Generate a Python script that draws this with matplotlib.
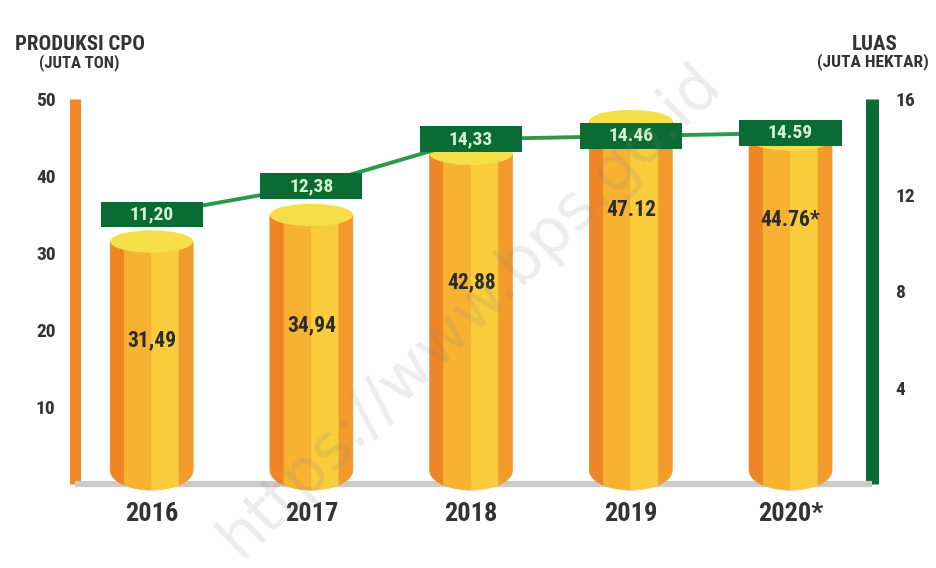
import numpy as np
import matplotlib.pyplot as plt
from matplotlib.patches import Polygon, Ellipse, Rectangle

# Data produksi CPO dan luas areal kelapa sawit
tahun = ['2016', '2017', '2018', '2019', '2020*']
produksi_cpo = [31.49, 34.94, 42.88, 47.12, 44.76]      # juta ton
luas_areal = [11.20, 12.38, 14.33, 14.46, 14.59]        # juta hektar
label_produksi = ['31,49', '34,94', '42,88', '47.12', '44.76*']
label_luas = ['11,20', '12,38', '14,33', '14.46', '14.59']
ticks_kiri = [10, 20, 30, 40, 50]
ticks_kanan = [4, 8, 12, 16]

# tinggi teks nilai di dalam silinder (satuan sumbu kiri)
posisi_label = [18.6, 20.6, 26.2, 35.6, 34.3]

ORANYE = '#F08A26'
HIJAU_TUA = '#0B6B34'
HIJAU_GARIS = '#2A9A4A'
ABU = '#CBCBCB'
TEKS = '#333333'

plt.rcParams['font.family'] = ['Roboto Condensed', 'Liberation Sans Narrow', 'Roboto', 'DejaVu Sans']
plt.rcParams['font.weight'] = 'bold'

fig = plt.figure(figsize=(9.36, 5.68), dpi=100)
ax = fig.add_axes([75 / 936, 84 / 568, 797 / 936, 385 / 568])
ax.set_xlim(-0.48, 4.51)
ax.set_ylim(0, 50)

# spines: kiri oranye, kanan hijau, bawah abu-abu
ax.spines['top'].set_visible(False)
ax.spines['left'].set_color(ORANYE)
ax.spines['left'].set_linewidth(8)
ax.spines['left'].set_capstyle('butt')
ax.spines['right'].set_color(HIJAU_TUA)
ax.spines['right'].set_linewidth(9.4)
ax.spines['right'].set_capstyle('butt')
ax.spines['bottom'].set_color(ABU)
ax.spines['bottom'].set_linewidth(4.5)
ax.spines['bottom'].set_capstyle('butt')

ax.set_yticks(ticks_kiri)
ax.set_yticklabels([str(t) for t in ticks_kiri])
ax.tick_params(axis='y', length=0, pad=14, labelsize=14, labelcolor=TEKS)
ax.set_xticks(range(len(tahun)))
ax.set_xticklabels(tahun)
ax.tick_params(axis='x', length=0, pad=13, labelsize=19, labelcolor=TEKS)

# silinder produksi CPO
lebar = 0.52
tinggi_tutup = 2.9
awal_bawah = 1.8
dalam_bawah = 2.6
warna_garis = [(0.0, 0.17, '#EE8626'), (0.17, 0.5, '#F7B232'),
               (0.5, 0.83, '#F8CC3C'), (0.83, 1.0, '#F29A2C')]
for i, v in enumerate(produksi_cpo):
    x0 = i - lebar / 2
    for a, b, c in warna_garis:
        xs = np.linspace(x0 + a * lebar, x0 + b * lebar, 25)
        u = (xs - i) / (lebar / 2)
        ys = awal_bawah - dalam_bawah * np.sqrt(np.clip(1 - u ** 2, 0, 1))
        verts = [(xs[0], v)] + list(zip(xs, ys)) + [(xs[-1], v)]
        ax.add_patch(Polygon(verts, closed=True, fc=c, ec=c, lw=0.4,
                             clip_on=False, zorder=3))
    ax.add_patch(Ellipse((i, v), lebar, tinggi_tutup, fc='#F4DF48', ec='none',
                         clip_on=False, zorder=3))
    ax.text(i, posisi_label[i], label_produksi[i], ha='center', va='center',
            fontsize=15.5, color='#2B2B2B', zorder=4)

# garis luas areal pada sumbu kanan
ax2 = ax.twinx()
ax2.set_ylim(0, 16)
for s in ax2.spines.values():
    s.set_visible(False)
ax2.set_yticks(ticks_kanan)
ax2.set_yticklabels([str(t) for t in ticks_kanan])
ax2.tick_params(axis='y', length=0, pad=17, labelsize=14, labelcolor=TEKS)
ax2.plot(range(len(luas_areal)), luas_areal, color=HIJAU_GARIS, lw=2.8,
         zorder=2, clip_on=False)
for i, v in enumerate(luas_areal):
    ax2.add_patch(Rectangle((i - 0.32, v - 0.54), 0.64, 1.08, fc=HIJAU_TUA,
                            ec='none', clip_on=False, zorder=3))
    ax2.text(i, v, label_luas[i], ha='center', va='center', fontsize=14,
             color='#D6F5CF', zorder=4)

# judul sumbu
fig.text(80 / 936, 1 - 45 / 568, 'PRODUKSI CPO', ha='center', va='center',
         fontsize=15, color=TEKS)
fig.text(79 / 936, 1 - 63 / 568, '(JUTA TON)', ha='center', va='center',
         fontsize=12, color=TEKS)
fig.text(875 / 936, 1 - 44 / 568, 'LUAS', ha='center', va='center',
         fontsize=15, color=TEKS)
fig.text(873 / 936, 1 - 62 / 568, '(JUTA HEKTAR)', ha='center', va='center',
         fontsize=12.5, color=TEKS)

# tanda air
fig.text(240 / 936, 8 / 568, 'https://www.bps.go.id', rotation=44.5,
         rotation_mode='anchor', ha='left', va='baseline', fontsize=45,
         family='DejaVu Sans', fontweight='normal', color='#808080',
         alpha=0.15, zorder=10)

fig.savefig('out.png', dpi=100)
